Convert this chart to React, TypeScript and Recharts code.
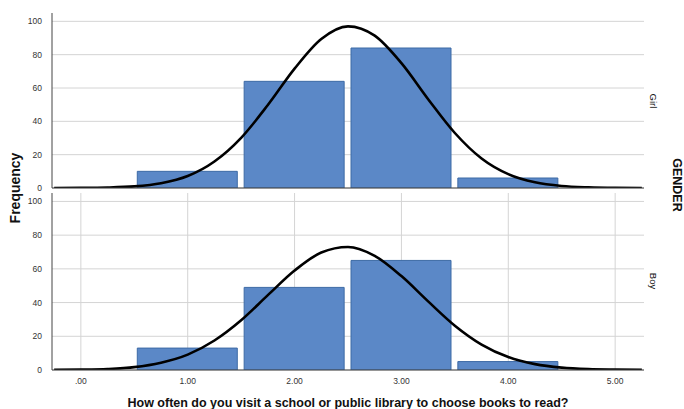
import React from 'react';
import { ComposedChart, Bar, Line, XAxis, YAxis, CartesianGrid } from 'recharts';

// Histogram bins (category centres) and counts per gender
const categories = [1, 2, 3, 4];
const girlCounts = [10, 64, 84, 6];
const boyCounts = [13, 49, 65, 5];

// Fitted normal curve
const curveX = [-0.25, 0, 0.25, 0.5, 0.75, 1, 1.25, 1.5, 1.75, 2, 2.25, 2.5, 2.75, 3, 3.25, 3.5, 3.75, 4, 4.25, 4.5, 4.75, 5, 5.25];
const girlCurve = [0.02, 0.08, 0.3, 1.0, 2.9, 7.2, 15.9, 30.1, 49.8, 71.6, 89.4, 97, 91.4, 74.9, 53.3, 33.0, 17.7, 8.3, 3.4, 1.2, 0.4, 0.1, 0.03];
const boyCurve = [0.06, 0.2, 0.6, 1.7, 4.3, 9.1, 17.5, 29.5, 44.4, 59.0, 69.7, 73, 67.7, 55.7, 40.7, 26.3, 15.1, 7.7, 3.5, 1.4, 0.5, 0.2, 0.05];

const xTicks = [0, 1, 2, 3, 4, 5];
const xTickLabels = ['.00', '1.00', '2.00', '3.00', '4.00', '5.00'];
const yTicks = [0, 20, 40, 60, 80, 100];

const xTitle = 'How often do you visit a school or public library to choose books to read?';
const yTitle = 'Frequency';
const panelTitle = 'GENDER';
const panelLabels = ['Girl', 'Boy'];

const girlBars = categories.map((x, i) => ({ x, count: girlCounts[i] }));
const boyBars = categories.map((x, i) => ({ x, count: boyCounts[i] }));
const girlLine = curveX.map((x, i) => ({ x, curve: girlCurve[i] }));
const boyLine = curveX.map((x, i) => ({ x, curve: boyCurve[i] }));

const X_DOMAIN: [number, number] = [-0.27, 5.27];
const FONT = 'Arial, "Liberation Sans", sans-serif';
const tickStyle = { fontSize: 8.5, fill: '#333', fontFamily: FONT };

function Panel({ bars, line, showX }: { bars: any[]; line: any[]; showX: boolean }) {
  return (
    <ComposedChart
      width={684}
      height={showX ? 219 : 200}
      data={bars}
      margin={showX ? { top: 3, right: 40, bottom: 19, left: 0 } : { top: 13, right: 40, bottom: 11, left: 0 }}
    >
      <CartesianGrid stroke="#d4d4d4" strokeWidth={1} syncWithTicks />
      <XAxis
        dataKey="x"
        type="number"
        domain={X_DOMAIN}
        ticks={xTicks}
        tickFormatter={(v: number) => xTickLabels[xTicks.indexOf(v)] ?? ''}
        tick={showX ? tickStyle : false}
        tickLine={false}
        axisLine={{ stroke: '#444', strokeWidth: 1 }}
        height={showX ? 20 : 1}
        interval={0}
        allowDataOverflow
      />
      <XAxis xAxisId="c" dataKey="x" type="number" domain={X_DOMAIN} hide allowDataOverflow />
      <YAxis
        type="number"
        domain={[0, 105]}
        ticks={yTicks}
        tick={tickStyle}
        tickLine={false}
        axisLine={{ stroke: '#444', strokeWidth: 1 }}
        width={52}
        tickMargin={4}
        interval={0}
        allowDataOverflow
      />
      <Bar dataKey="count" barSize={100} fill="#5b88c7" stroke="#3d6aa5" strokeWidth={1} isAnimationActive={false} />
      <Line
        data={line}
        xAxisId="c"
        dataKey="curve"
        type="monotone"
        stroke="#000"
        strokeWidth={2.6}
        dot={false}
        activeDot={false}
        isAnimationActive={false}
      />
    </ComposedChart>
  );
}

function Label({ x, y, rot, size, bold, children }: any) {
  return (
    <div
      style={{
        position: 'absolute',
        left: x,
        top: y,
        transform: `translate(-50%, -50%) rotate(${rot}deg)`,
        fontFamily: FONT,
        fontSize: size,
        fontWeight: bold ? 'bold' : 'normal',
        color: '#111',
        whiteSpace: 'nowrap',
        lineHeight: 1,
      }}
    >
      {children}
    </div>
  );
}

export default function App() {
  return (
    <div style={{ position: 'absolute', left: 0, top: 0, width: 684, height: 409, background: '#fff', overflow: 'hidden' }}>
      <div style={{ position: 'absolute', left: 0, top: 0 }}>
        <Panel bars={girlBars} line={girlLine} showX={false} />
      </div>
      <div style={{ position: 'absolute', left: 0, top: 190 }}>
        <Panel bars={boyBars} line={boyLine} showX={true} />
      </div>
      <Label x={15} y={188} rot={-90} size={14} bold>{yTitle}</Label>
      <Label x={677} y={185} rot={90} size={12.5} bold>{panelTitle}</Label>
      <Label x={653} y={101} rot={90} size={9.5}>{panelLabels[0]}</Label>
      <Label x={653} y={281} rot={90} size={9.5}>{panelLabels[1]}</Label>
      <Label x={348} y={403} rot={0} size={12.5} bold>{xTitle}</Label>
    </div>
  );
}
